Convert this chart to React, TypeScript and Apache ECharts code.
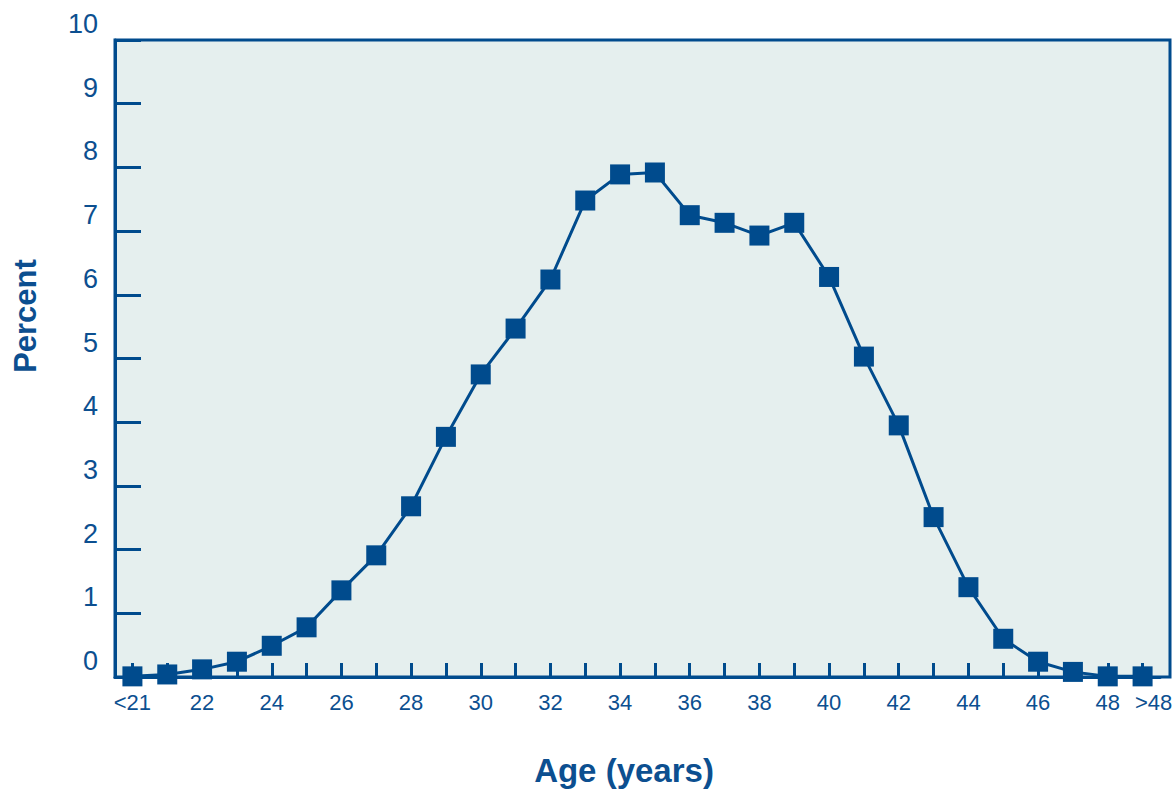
import React, { useEffect, useRef } from "react";
import * as echarts from "echarts";

const categories = ["<21", "21", "22", "23", "24", "25", "26", "27", "28", "29", "30", "31", "32", "33", "34", "35", "36", "37", "38", "39", "40", "41", "42", "43", "44", "45", "46", "47", "48", ">48"];
const percentValues = [0.01, 0.04, 0.12, 0.24, 0.49, 0.78, 1.36, 1.91, 2.68, 3.77, 4.75, 5.47, 6.24, 7.48, 7.89, 7.92, 7.25, 7.13, 6.93, 7.13, 6.28, 5.03, 3.95, 2.51, 1.41, 0.6, 0.24, 0.08, 0.01, 0.01];
const yMin = 0;
const yMax = 10;
const yStep = 1;
const xTitle = "Age (years)";
const yTitle = "Percent";

const BLUE = "#004b8d";
const TEXT = "#0c4f90";
const BG = "#e5efee";
const FONT = "'Liberation Sans', Arial, Helvetica, sans-serif";

export default function App() {
  const ref = useRef<HTMLDivElement>(null);
  useEffect(() => {
    document.body.style.margin = "0";
    const chart = echarts.init(ref.current!, null, { renderer: "svg" });
    const lastIdx = categories.length - 1;
    chart.setOption({
      animation: false,
      backgroundColor: "#ffffff",
      textStyle: { fontFamily: FONT },
      grid: { left: 115, top: 40, width: 1045, bottom: 112, containLabel: false },
      graphic: [
        {
          type: "rect",
          z: -10,
          silent: true,
          shape: { x: 115, y: 40, width: 1055, height: 637 },
          style: { fill: BG, stroke: BLUE, lineWidth: 3 },
        },
        {
          type: "text",
          x: 25,
          y: 316,
          rotation: Math.PI / 2,
          style: {
            text: yTitle,
            fill: TEXT,
            font: `bold 31px ${FONT}`,
            align: "center",
            verticalAlign: "middle",
          },
        },
        {
          type: "text",
          x: 624,
          y: 770,
          style: {
            text: xTitle,
            fill: TEXT,
            font: `bold 33px ${FONT}`,
            lineHeight: 33,
            align: "center",
            verticalAlign: "middle",
          },
        },
      ],
      xAxis: {
        type: "category",
        data: categories,
        boundaryGap: true,
        axisLine: { show: true, lineStyle: { color: BLUE, width: 3 } },
        axisTick: {
          show: true,
          inside: true,
          length: 14,
          alignWithLabel: true,
          interval: 0,
          lineStyle: { color: BLUE, width: 3 },
        },
        axisLabel: {
          interval: (index: number) => index % 2 === 0 || index === lastIdx,
          color: TEXT,
          fontSize: 22,
          fontFamily: FONT,
          margin: 14,
          formatter: (value: string, index: number) =>
            index === lastIdx ? `{last|${value}}` : value,
          rich: {
            last: {
              color: TEXT,
              fontSize: 22,
              fontFamily: FONT,
              padding: [0, 0, 0, 22],
            },
          },
        },
        splitLine: { show: false },
      },
      yAxis: {
        type: "value",
        min: yMin,
        max: yMax,
        interval: yStep,
        axisLine: { show: true, lineStyle: { color: BLUE, width: 3 } },
        axisTick: {
          show: true,
          inside: true,
          length: 26,
          lineStyle: { color: BLUE, width: 3 },
        },
        axisLabel: {
          color: TEXT,
          fontSize: 27,
          fontFamily: FONT,
          margin: 17,
          verticalAlign: "bottom",
          lineHeight: 32,
        },
        splitLine: { show: false },
      },
      series: [
        {
          type: "line",
          data: percentValues,
          symbol: "rect",
          symbolSize: 20,
          showSymbol: true,
          lineStyle: { color: BLUE, width: 3 },
          itemStyle: { color: BLUE },
          z: 5,
        },
      ],
    });
    return () => chart.dispose();
  }, []);
  return (
    <div
      ref={ref}
      style={{ position: "absolute", left: 0, top: 0, width: 1176, height: 789 }}
    />
  );
}
